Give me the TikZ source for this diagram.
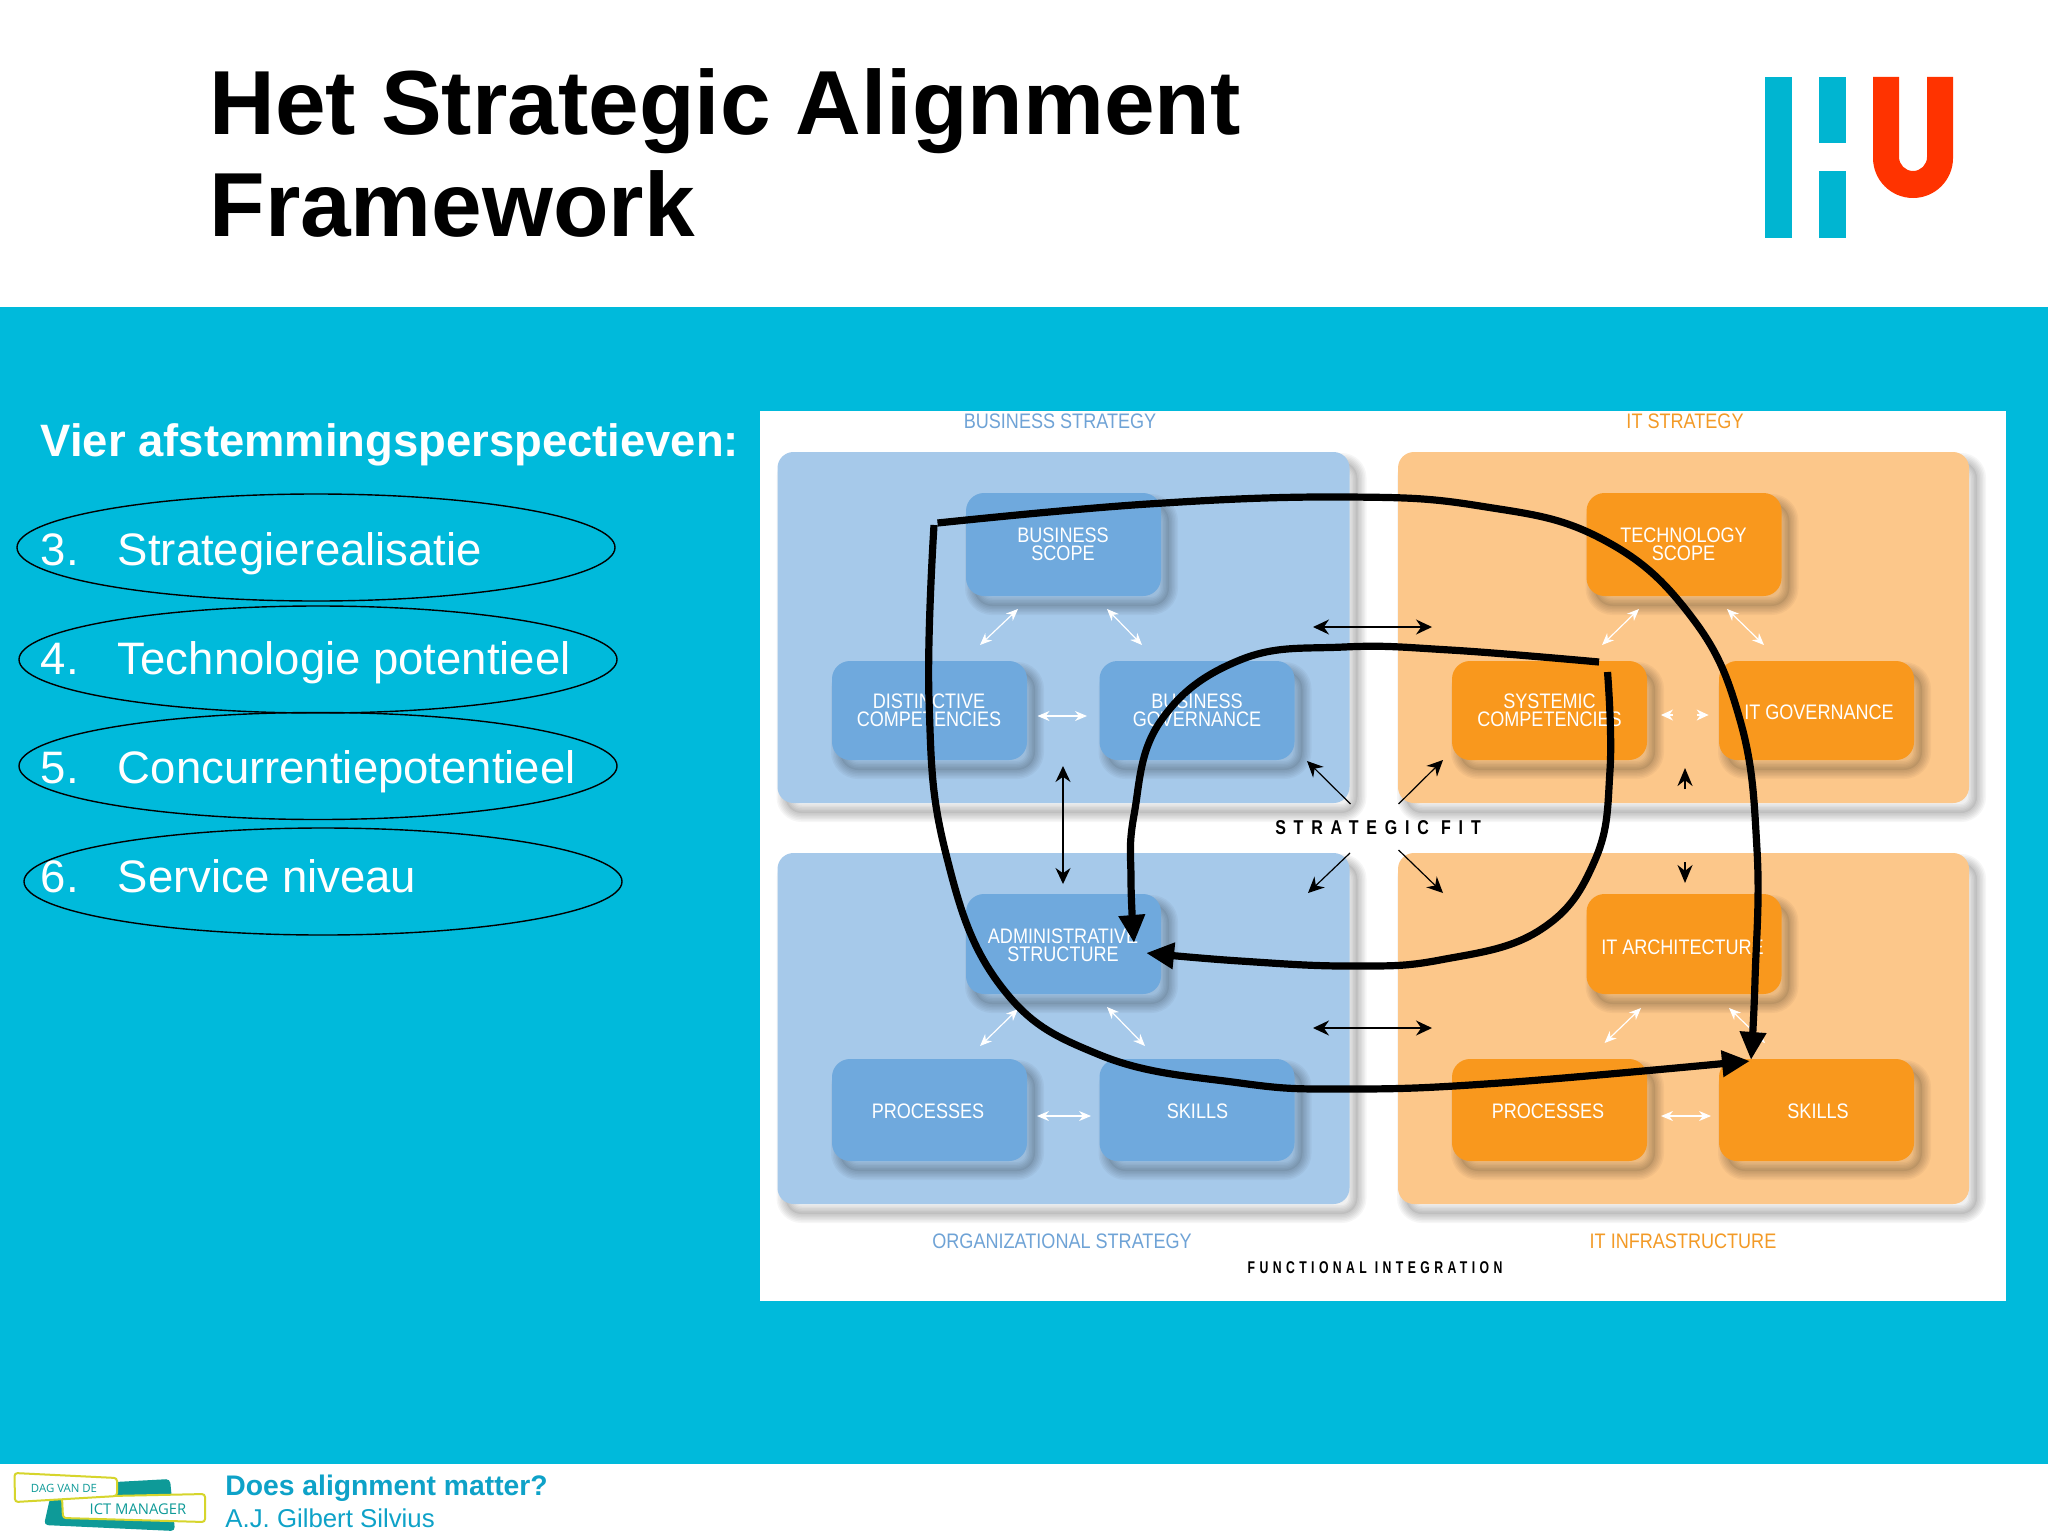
\documentclass[tikz,border=0pt]{standalone}
\usepackage{fontspec}
\setmainfont{Liberation Sans}
\newfontfamily\din[FakeStretch=0.86]{Liberation Sans}
\newfontfamily\dinw[FakeStretch=0.8,LetterSpace=39]{Liberation Sans Bold}
\newfontfamily\dinf[FakeStretch=0.72,LetterSpace=26]{Liberation Sans Bold}
\newfontfamily\logofont{Open Sans}
\usetikzlibrary{arrows.meta,positioning,shapes.geometric}
\definecolor{teal}{HTML}{00BADB}
\definecolor{hublue}{HTML}{00B5D1}
\definecolor{hured}{HTML}{FF3300}
\definecolor{bpanel}{HTML}{A6C9EA}
\definecolor{bbox}{HTML}{6FA9DD}
\definecolor{opanel}{HTML}{FCC78A}
\definecolor{obox}{HTML}{F9981D}
\definecolor{btext}{HTML}{6FA3D6}
\definecolor{otext}{HTML}{F39A26}
\definecolor{foot}{HTML}{0EA2C8}
\definecolor{dagteal}{HTML}{0E9A98}
\definecolor{dagyel}{HTML}{D6D52C}
\tikzset{
  shlayer/.style={preaction={draw=black,draw opacity=.035,line width=#1,transform canvas={shift={(4pt,-5pt)}}}},
  shfill/.style={preaction={fill=black,fill opacity=.06,transform canvas={shift={(4pt,-5pt)}}}},
  softsh/.style={shfill,shlayer=9pt,shlayer=7.5pt,shlayer=6pt,shlayer=4.5pt,shlayer=3pt,shlayer=1.5pt},
  panelb/.style={rectangle,rounded corners=8pt,softsh,minimum width=286pt,minimum height=175.5pt,fill=bpanel,inner sep=0pt},
  panelo/.style={rectangle,rounded corners=8pt,softsh,minimum width=285.5pt,minimum height=175.5pt,fill=opanel,inner sep=0pt},
  boxb/.style={rectangle,rounded corners=9pt,softsh,minimum width=97.5pt,fill=bbox,inner sep=0pt},
  boxo/.style={rectangle,rounded corners=9pt,softsh,minimum width=97.5pt,fill=obox,inner sep=0pt},
  toprow/.style={minimum height=51.5pt},
  midrow/.style={minimum height=49.5pt},
  admrow/.style={minimum height=50pt},
  lowrow/.style={minimum height=51pt},
  boxtext/.style={text=white,align=center,inner sep=0pt,font=\din\fontsize{10.5}{8.9}\selectfont},
  headb/.style={text=btext,inner sep=0pt,font=\din\fontsize{10.5}{12}\selectfont},
  heado/.style={text=otext,inner sep=0pt,font=\din\fontsize{10.5}{12}\selectfont},
  fitlabel/.style={text=black,inner sep=0pt,font=\dinw\fontsize{10}{12}\selectfont},
  funlabel/.style={text=black,inner sep=0pt,font=\dinf\fontsize{8.5}{10}\selectfont},
  whitearrow/.style={draw=white,line width=.6pt,{Stealth[length=6pt,width=5pt]}-{Stealth[length=6pt,width=5pt]}},
  whitehead/.style={draw=white,line width=.6pt,-{Stealth[length=6pt,width=5.5pt]}},
  blackarrow/.style={draw=black,line width=.7pt,{Stealth[length=8pt,width=7.5pt]}-{Stealth[length=8pt,width=7.5pt]}},
  blackhead/.style={draw=black,line width=.6pt,-{Stealth[length=8pt,width=7.5pt]}},
  blackstub/.style={draw=black,line width=1pt,-{Stealth[length=9pt,width=7.5pt]}},
  thickcurve/.style={draw=black,line width=3.6pt},
  bigtip/.style={thickcurve,-{Triangle[length=14pt,width=12.5pt]}},
  listitem/.style={anchor=base west,inner sep=0pt,text=white,font=\fontsize{22.75}{27}\selectfont},
  ringnode/.style={ellipse,draw=black,line width=.7pt,minimum width=299pt,minimum height=53.5pt,inner sep=0pt},
}
\newcommand{\arw}[6]{\coordinate (#1-a) at (#3,#4);\coordinate (#1-b) at (#5,#6);\draw[#2] (#1-a) -- (#1-b);}
\begin{document}
\begin{tikzpicture}[x=.5pt,y=-.5pt]
\useasboundingbox (0,0) rectangle (2048,1536);
\fill[white] (0,0) rectangle (2048,1536);
\fill[teal] (0,307) rectangle (2048,1464);
% title
\node[anchor=base west,inner sep=0pt,font=\bfseries\fontsize{45.5}{50}\selectfont] (title1) at (209,134.5) {Het Strategic Alignment};
\node[anchor=base west,inner sep=0pt,font=\bfseries\fontsize{45.5}{50}\selectfont] (title2) at (209,236.5) {Framework};
% HU logo
\fill[hublue] (1765,77) rectangle (1792,238);
\fill[hublue] (1819,77) rectangle (1846,143);
\fill[hublue] (1819,171) rectangle (1846,238);
\fill[hured] (1873,77) -- (1899,77) -- (1899,157) arc[start angle=180,end angle=0,radius=14] -- (1927,77) -- (1953,77) -- (1953,158) arc[start angle=0,end angle=180,radius=40] -- cycle;
% left text
\node[anchor=base west,inner sep=0pt,text=white,font=\bfseries\fontsize{22.7}{27}\selectfont] (lead) at (40.5,456) {Vier afstemmingsperspectieven:};
\node[listitem] (n3) at (40.5,565.5) {3.};
\node[listitem] (t3) at (117.5,565.5) {Strategierealisatie};
\node[listitem] (n4) at (40.5,674) {4.};
\node[listitem] (t4) at (117.5,674) {Technologie potentieel};
\node[listitem] (n5) at (40.5,783.5) {5.};
\node[listitem] (t5) at (117.5,783.5) {Concurrentiepotentieel};
\node[listitem] (n6) at (40.5,892) {6.};
\node[listitem] (t6) at (117.5,892) {Service niveau};
\node[ringnode] (r3) at (316,547.5) {};
\node[ringnode] (r4) at (318,659.5) {};
\node[ringnode] (r5) at (318,766) {};
\node[ringnode] (r6) at (323,881.5) {};
% picture background
\fill[white] (760,411) rectangle (2006,1301);
\node[panelb] (pbs) at (1063.5,627.5) {};
\node[panelo] (pit) at (1683.5,627.5) {};
\node[panelb] (pos) at (1063.5,1028.5) {};
\node[panelo] (pin) at (1683.5,1028.5) {};
% boxes
\node[boxb,toprow] (bs) at (1063.5,544.5) {};
\node[boxb,midrow] (dc) at (929.5,710.5) {};
\node[boxb,midrow] (bg) at (1197,710.5) {};
\node[boxb,admrow] (as) at (1063.5,944) {};
\node[boxb,lowrow] (op) at (929.5,1110) {};
\node[boxb,lowrow] (os) at (1197,1110) {};
\node[boxo,toprow] (ts) at (1684,544.5) {};
\node[boxo,midrow] (sc) at (1549.5,710.5) {};
\node[boxo,midrow] (ig) at (1816.5,710.5) {};
\node[boxo,admrow] (ia) at (1684,944) {};
\node[boxo,lowrow] (ip) at (1549.5,1110) {};
\node[boxo,lowrow] (is) at (1816.5,1110) {};
% box labels
\node[boxtext] (lbs) at (1063,544.5) {BUSINESS\\SCOPE};
\node[boxtext] (ldc) at (929,710) {DISTINCTIVE\\COMPETENCIES};
\node[boxtext] (lbg) at (1197,710) {BUSINESS\\GOVERNANCE};
\node[boxtext] (las) at (1063,945) {ADMINISTRATIVE\\STRUCTURE};
\node[boxtext] (lop) at (928,1111) {PROCESSES};
\node[boxtext] (los) at (1197.5,1111) {SKILLS};
\node[boxtext] (lts) at (1683.5,544.5) {TECHNOLOGY\\SCOPE};
\node[boxtext] (lsc) at (1549.5,710) {SYSTEMIC\\COMPETENCIES};
\node[boxtext] (lig) at (1819,712) {IT GOVERNANCE};
\node[boxtext] (lia) at (1682.5,947) {IT ARCHITECTURE};
\node[boxtext] (lip) at (1548,1111) {PROCESSES};
\node[boxtext] (lis) at (1818,1111) {SKILLS};
% headings
\node[headb] (hbs) at (1060,421) {BUSINESS STRATEGY};
\node[heado] (hit) at (1685,421) {IT STRATEGY};
\node[headb] (hos) at (1062,1241) {ORGANIZATIONAL STRATEGY};
\node[heado] (hin) at (1683,1241) {IT INFRASTRUCTURE};
\node[fitlabel] (lfit) at (1378,828) {STRATEGIC FIT};
\node[funlabel] (lfun) at (1375,1268) {FUNCTIONAL INTEGRATION};
% white arrows
\arw{w1}{whitearrow}{1018}{609}{980}{645}
\arw{w2}{whitearrow}{1107}{609}{1142}{645}
\arw{w3}{whitearrow}{1037.5}{716}{1087}{716}
\arw{w4}{whitearrow}{1639}{609}{1602}{645}
\arw{w5}{whitearrow}{1727}{609}{1764}{645}
\arw{w6}{whitehead}{1673}{715}{1661}{715}
\arw{w7}{whitehead}{1696.5}{715}{1708.6}{715}
\arw{w8}{whitearrow}{1018}{1009}{980}{1046}
\arw{w9}{whitearrow}{1107}{1007}{1145}{1046}
\arw{w10}{whitearrow}{1037}{1116}{1091}{1116}
\arw{w11}{whitearrow}{1641}{1008}{1604.5}{1043}
\arw{w12}{whitearrow}{1729}{1008}{1765}{1043}
\arw{w13}{whitearrow}{1661}{1116}{1711}{1116}
% black arrows
\arw{k1}{blackarrow}{1063}{766}{1063}{884}
\arw{k2}{blackarrow}{1313}{627}{1432}{627}
\arw{k3}{blackarrow}{1313}{1028}{1432}{1028}
\arw{k4}{blackhead}{1350.5}{804}{1307}{761}
\arw{k5}{blackhead}{1398.5}{804}{1443}{760}
\arw{k6}{blackhead}{1350}{853}{1308}{893}
\arw{k7}{blackhead}{1398.5}{850}{1443}{893}
\arw{k8}{blackstub}{1685}{789}{1685}{768}
\arw{k9}{blackstub}{1685}{862}{1685}{883}
% thick curves
\coordinate (c1s) at (934,525);
\coordinate (c1e) at (1750,1061);
\coordinate (c2s) at (937.5,523);
\coordinate (c2e) at (1751,1060);
\coordinate (c3s) at (1599,662);
\coordinate (c3e) at (1134,943);
\coordinate (c4s) at (1607.5,672);
\coordinate (c4e) at (1146,953);
\draw[bigtip] plot[smooth,tension=.7] coordinates {(c1s) (929,700) (945,850) (1000,985) (1100,1055) (1240,1083) (1348,1089) (1500,1083) (c1e)};
\draw[bigtip] plot[smooth,tension=.7] coordinates {(c2s) (1148,504) (1344,497) (1480,506) (1600,538) (1690,615) (1740,720) (1757,850) (1755,980) (c2e)};
\draw[bigtip] plot[smooth,tension=.7] coordinates {(c3s) (1450,650) (1344,647) (1240,660) (1160,722) (1134,815) (1131,880) (c3e)};
\draw[bigtip] plot[smooth,tension=.7] coordinates {(c4s) (1610,770) (1595,860) (1540,930) (1440,960) (1350,966) (1240,961) (c4e)};
% footer logo
\fill[dagteal,rounded corners=2pt] (115,1482) -- (170,1479) -- (175,1531) -- (44,1525) -- (50,1498) -- cycle;
\filldraw[fill=white,draw=dagyel,line width=1pt,rounded corners=1.5pt] (62,1497) -- (205,1494) -- (205,1522) -- (63,1518) -- cycle;
\filldraw[fill=white,draw=dagyel,line width=1pt,rounded corners=1.5pt] (14.5,1473) -- (117,1478) -- (117,1496) -- (15,1502) -- cycle;
\node[inner sep=0pt,text=dagteal,font=\logofont\fontsize{5.7}{7}\selectfont] (dag) at (64,1488) {DAG VAN DE};
\node[inner sep=0pt,text=dagteal,font=\logofont\fontsize{7.4}{8}\selectfont] (ict) at (138,1509) {ICT MANAGER};
% footer text
\node[anchor=base west,inner sep=0pt,text=foot,font=\bfseries\fontsize{14.15}{17}\selectfont] (f1) at (225,1495) {Does alignment matter?};
\node[anchor=base west,inner sep=0pt,text=foot,font=\fontsize{12.9}{15}\selectfont] (f2) at (225,1527) {A.J. Gilbert Silvius};
\end{tikzpicture}
\end{document}
